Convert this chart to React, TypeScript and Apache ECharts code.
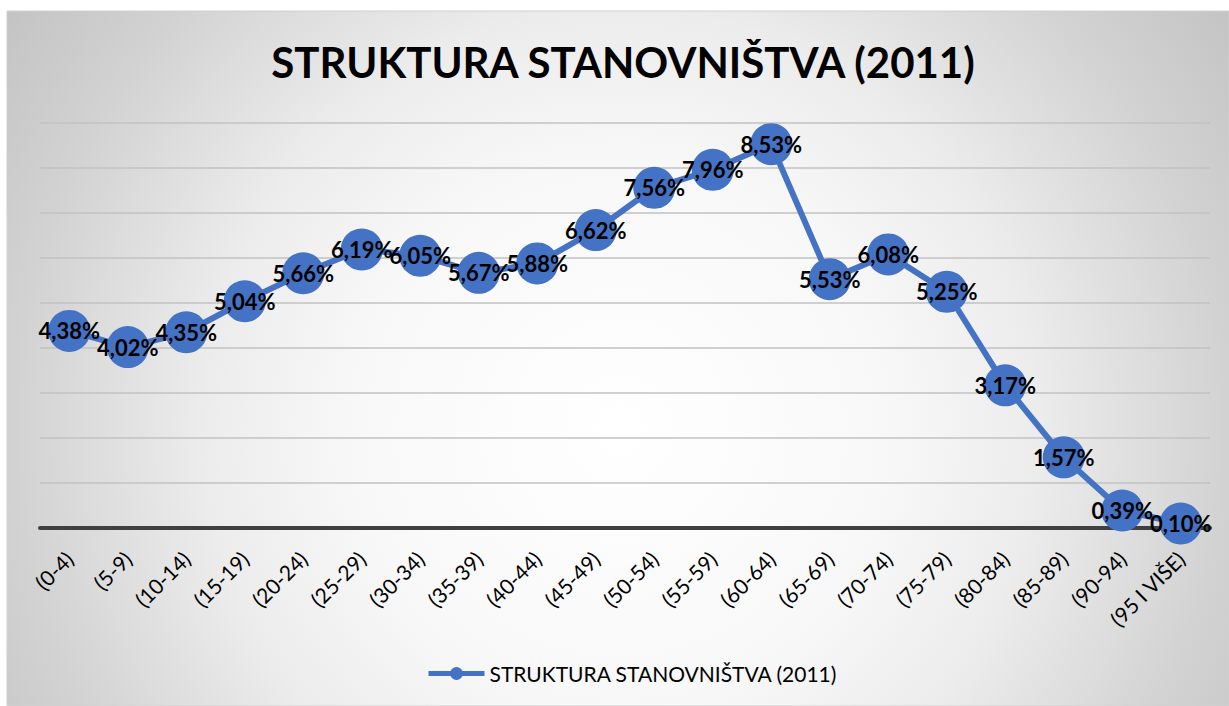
import React, { useEffect, useRef } from "react";
import * as echarts from "echarts";

const TITLE = "STRUKTURA STANOVNIŠTVA (2011)";
const SERIES_NAME = "STRUKTURA STANOVNIŠTVA (2011)";
const categories = [
  "(0-4)", "(5-9)", "(10-14)", "(15-19)", "(20-24)", "(25-29)", "(30-34)",
  "(35-39)", "(40-44)", "(45-49)", "(50-54)", "(55-59)", "(60-64)", "(65-69)",
  "(70-74)", "(75-79)", "(80-84)", "(85-89)", "(90-94)", "(95 I VIŠE)",
];
const values = [
  4.38, 4.02, 4.35, 5.04, 5.66, 6.19, 6.05, 5.67, 5.88, 6.62,
  7.56, 7.96, 8.53, 5.53, 6.08, 5.25, 3.17, 1.57, 0.39, 0.10,
];
const yMin = 0;
const yMax = 9;
const yInterval = 1;

const FONT = "Lato, 'Noto Sans', sans-serif";
const BLUE = "#4472C4";

export default function App() {
  const ref = useRef<HTMLDivElement>(null);
  useEffect(() => {
    if (!ref.current) return;
    const chart = echarts.init(ref.current, undefined, { renderer: "svg" });
    chart.setOption({
      animation: false,
      graphic: [
        {
          type: "rect",
          z: -10,
          silent: true,
          shape: { x: 7, y: 11, width: 1222, height: 695 },
          style: {
            fill: new echarts.graphic.RadialGradient(
              620,
              430,
              760,
              [
                { offset: 0, color: "#ffffff" },
                { offset: 0.35, color: "#f8f8f8" },
                { offset: 0.55, color: "#ececec" },
                { offset: 0.8, color: "#d2d2d2" },
                { offset: 0.97, color: "#c4c4c4" },
                { offset: 1, color: "#c2c2c2" },
              ],
              true
            ),
            stroke: "#d0d0d0",
            lineWidth: 1,
          },
        },
        {
          type: "text",
          x: 623,
          y: 62,
          style: {
            text: TITLE,
            fill: "#000",
            font: `bold 42px ${FONT}`,
            textAlign: "center",
            textVerticalAlign: "middle",
          },
        },
      ],
      legend: {
        bottom: 17,
        left: 421,
        itemWidth: 56,
        itemHeight: 16,
        lineStyle: { width: 5 },
        textStyle: { color: "#000", fontFamily: FONT, fontSize: 21 },
        data: [SERIES_NAME],
      },
      grid: { left: 40, right: 19, top: 123, bottom: 178 },
      xAxis: {
        type: "category",
        data: categories,
        boundaryGap: true,
        axisTick: { show: false },
        axisLine: { lineStyle: { color: "#404040", width: 4 } },
        axisLabel: {
          rotate: 45,
          interval: 0,
          margin: 27,
          color: "#000",
          fontFamily: FONT,
          fontSize: 21,
        },
      },
      yAxis: {
        type: "value",
        min: yMin,
        max: yMax,
        interval: yInterval,
        axisLabel: { show: false },
        axisLine: { show: false },
        axisTick: { show: false },
        splitLine: { lineStyle: { color: "#c2c2c2", width: 1.5 } },
      },
      series: [
        {
          name: SERIES_NAME,
          type: "line",
          data: values,
          symbol: "circle",
          symbolSize: 42,
          itemStyle: { color: BLUE },
          lineStyle: { color: BLUE, width: 6 },
          label: {
            show: true,
            position: "inside",
            color: "#000",
            fontFamily: FONT,
            fontWeight: "bold",
            fontSize: 22,
            formatter: (p: any) => p.value.toFixed(2).replace(".", ",") + "%",
          },
        },
      ],
    });
    return () => chart.dispose();
  }, []);
  return (
    <div
      ref={ref}
      style={{ position: "absolute", left: 0, top: 0, width: 1229, height: 706 }}
    />
  );
}
